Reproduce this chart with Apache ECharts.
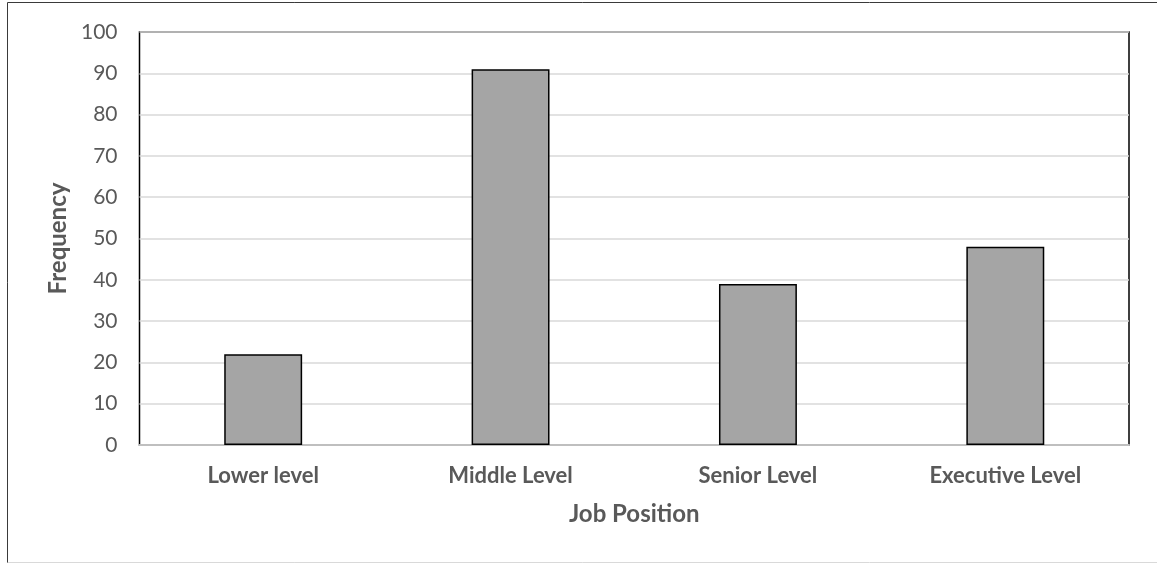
<!DOCTYPE html>
<html>
<head>
<meta charset="utf-8">
<script src="https://cdn.jsdelivr.net/npm/echarts@6/dist/echarts.min.js"></script>
<style>
  html, body { margin: 0; padding: 0; background: #ffffff; }
  #chart { width: 1157px; height: 563px; }
</style>
</head>
<body>
<div id="chart"></div>
<script>
// Job position frequency counts
const categories = ['Lower level', 'Middle Level', 'Senior Level', 'Executive Level'];
const frequency = [22, 91, 39, 48];
const yTicks = { min: 0, max: 100, interval: 10 };

const textColor = '#595959';
const fontFamily = 'Lato, "Open Sans", sans-serif';

const chart = echarts.init(document.getElementById('chart'), null, { renderer: 'canvas' });

chart.setOption({
  backgroundColor: '#ffffff',
  animation: false,
  graphic: [
    // outer chart frame
    { type: 'line', shape: { x1: 7.5, y1: 2.5, x2: 1157, y2: 2.5 }, style: { stroke: '#3a3a3a', lineWidth: 1 } },
    { type: 'line', shape: { x1: 7.5, y1: 2.5, x2: 7.5, y2: 563 }, style: { stroke: '#3a3a3a', lineWidth: 1 } },
    { type: 'line', shape: { x1: 7.5, y1: 562.5, x2: 1157, y2: 562.5 }, style: { stroke: '#d9d9d9', lineWidth: 1 } }
  ],
  grid: {
    left: 139.5,
    top: 32,
    right: 28,
    bottom: 118,
    show: true,
    borderColor: '#000000',
    borderWidth: 1.5,
    backgroundColor: 'transparent'
  },
  xAxis: {
    type: 'category',
    data: categories,
    name: 'Job Position',
    nameLocation: 'middle',
    nameGap: 57,
    nameTextStyle: { color: textColor, fontFamily, fontSize: 24, fontWeight: 'bold' },
    axisLine: { show: true, lineStyle: { color: '#bfbfbf', width: 2 } },
    axisTick: { show: false },
    axisLabel: { color: textColor, fontFamily, fontSize: 22, fontWeight: 'bold', margin: 20 },
    splitLine: { show: false }
  },
  yAxis: {
    type: 'value',
    min: yTicks.min,
    max: yTicks.max,
    interval: yTicks.interval,
    name: 'Frequency',
    nameLocation: 'middle',
    nameGap: 67,
    nameTextStyle: { color: textColor, fontFamily, fontSize: 24, fontWeight: 'bold' },
    axisLine: { show: false },
    axisTick: { show: false },
    axisLabel: { color: textColor, fontFamily, fontSize: 21, margin: 22 },
    splitLine: { show: true, lineStyle: { color: '#d9d9d9', width: 1.5 } }
  },
  series: [{
    type: 'bar',
    data: frequency,
    barWidth: '31.5%',
    itemStyle: { color: '#a5a5a5', borderColor: '#000000', borderWidth: 1.5 }
  }]
});
</script>
</body>
</html>
